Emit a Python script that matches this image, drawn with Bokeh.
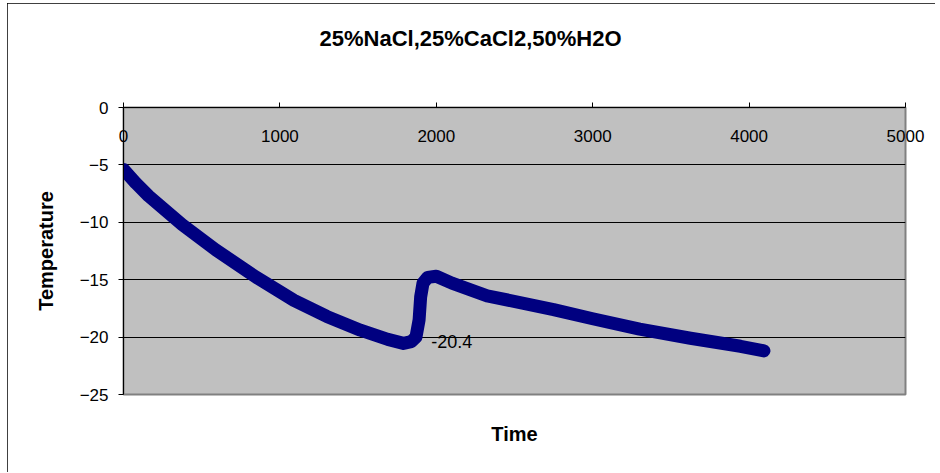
from bokeh.plotting import figure
from bokeh.models import LinearAxis, FixedTicker, Range1d, Title, ColumnDataSource
from bokeh.core.properties import value
from bokeh.embed import file_html
from bokeh.resources import INLINE

# ---- data ----
time = [0, 80, 160, 375, 590, 850, 1090, 1300, 1515, 1690, 1790, 1840, 1870, 1890, 1900,
        1915, 1945, 2000, 2100, 2325, 2750, 3000, 3300, 3625, 3945, 4095]
temperature = [-5.4, -6.6, -7.7, -10.2, -12.4, -14.8, -16.8, -18.2, -19.4, -20.2, -20.55,
               -20.4, -20.0, -18.5, -16.5, -15.3, -14.8, -14.7, -15.3, -16.4, -17.6,
               -18.4, -19.3, -20.1, -20.8, -21.2]
label_time = [1840]
label_temp = [-20.4]
label_text = ["-20.4"]
x_ticks = [0, 1000, 2000, 3000, 4000, 5000]
y_ticks = [-25, -20, -15, -10, -5, 0]
grid_ticks = [-20, -15, -10, -5]
title_text = "25%NaCl,25%CaCl2,50%H2O"

FONT = "Liberation Sans"

p = figure(width=928, height=469, output_backend="svg", toolbar_location=None,
           x_range=Range1d(0, 5000), y_range=Range1d(-25, 0),
           x_axis_location=None, y_axis_location=None,
           min_border_left=116, min_border_right=30, min_border_top=104, min_border_bottom=78)
p.background_fill_color = "#C0C0C0"
p.border_fill_color = "white"
p.outline_line_color = "#808080"
p.outline_line_width = 2
p.styles = {"outline": "1px solid black", "outline-offset": "-1px",
            "margin-left": "7px", "margin-top": "3px"}

# x axis at top (y = 0), labels drawn just under the line
xax = LinearAxis(ticker=FixedTicker(ticks=x_ticks))
xax.axis_line_color = "black"
xax.major_tick_line_color = "black"
xax.major_tick_out = 5
xax.major_tick_in = 0
xax.minor_tick_line_color = None
xax.major_label_standoff = -39
xax.major_label_text_font = FONT
xax.major_label_text_font_size = "17px"
xax.major_label_text_color = "black"
p.add_layout(xax, "above")

# blank spacer between the axis and the chart title
spacer = Title(text=" ", standoff=39, text_font_size="10px", text_color="white")
p.add_layout(spacer, "above")

# title
t = Title(text=title_text, align="left", offset=196, standoff=10,
          text_font=FONT, text_font_style="bold", text_font_size="22px", text_color="black")
p.add_layout(t, "above")

# y axis (left)
yax = LinearAxis(ticker=FixedTicker(ticks=y_ticks), axis_label="Temperature")
yax.axis_line_color = "black"
yax.major_tick_line_color = "black"
yax.major_tick_out = 5
yax.major_tick_in = 0
yax.minor_tick_line_color = None
yax.major_label_standoff = 10
yax.major_label_text_font = FONT
yax.major_label_text_font_size = "17px"
yax.major_label_text_color = "black"
yax.axis_label_text_font = FONT
yax.axis_label_text_font_style = "bold"
yax.axis_label_text_font_size = "20px"
yax.axis_label_text_color = "black"
yax.axis_label_standoff = 20
p.add_layout(yax, "left")

# bottom axis only for the "Time" title
bax = LinearAxis(ticker=FixedTicker(ticks=[]), axis_label="Time")
bax.axis_line_color = None
bax.major_tick_line_color = None
bax.minor_tick_line_color = None
bax.axis_label_text_font = FONT
bax.axis_label_text_font_style = "bold"
bax.axis_label_text_font_size = "20px"
bax.axis_label_text_color = "black"
bax.axis_label_standoff = 28
p.add_layout(bax, "below")

p.xgrid.visible = False
p.ygrid.ticker = FixedTicker(ticks=grid_ticks)
p.ygrid.grid_line_color = "black"
p.ygrid.grid_line_width = 1

src = ColumnDataSource(dict(t=time, v=temperature))
p.line("t", "v", source=src, line_color="#000080", line_width=13,
       line_join="round", line_cap="round")

lsrc = ColumnDataSource(dict(t=label_time, v=label_temp, s=label_text))
p.text("t", "v", text="s", source=lsrc, x_offset=20, text_baseline="middle",
       text_align="left", text_font=value(FONT), text_font_size="18px", text_color="black")

open("out.html", "w").write(file_html(p, INLINE))
